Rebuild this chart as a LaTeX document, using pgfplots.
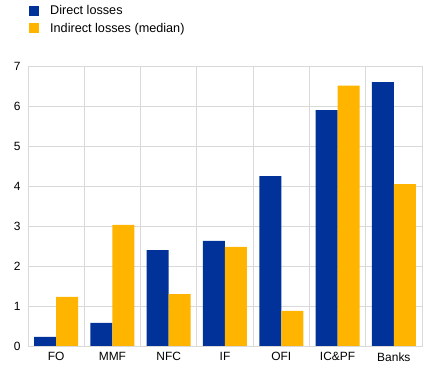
\documentclass[border=0pt]{standalone}
\usepackage{pgfplots}
\pgfplotsset{compat=1.18}
\usepackage{fontspec}
\setmainfont{Liberation Sans}
\definecolor{ecbblue}{HTML}{003299}
\definecolor{ecbyellow}{HTML}{FFB400}
\definecolor{gridgray}{HTML}{D9D9D9}
\begin{document}
\begin{tikzpicture}
\path[use as bounding box] (-28bp,-28bp) rectangle (409bp,346bp);
\begin{axis}[
  at={(0,0)}, anchor=south west,
  scale only axis, width=394bp, height=280bp,
  ybar=0pt, bar width=22bp,
  xmin=-0.5, xmax=6.5, ymin=0, ymax=7,
  xtick={0,...,6},
  xticklabels={FO,MMF,NFC,IF,OFI,IC\&PF,Banks},
  minor xtick={0.5,1.5,...,5.5},
  ytick={0,...,7},
  ymajorgrids, xminorgrids,
  major tick length=0pt, minor tick length=0pt,
  grid style={gridgray, line width=0.8pt},
  axis line style={gridgray, line width=0.8pt},
  tick label style={font=\fontsize{12}{14}\selectfont, black},
  /pgf/number format/assume math mode=true,
  xticklabel style={yshift=-3bp},
  yticklabel style={xshift=-4bp},
  legend style={at={(0,1)}, anchor=north west, xshift=1bp, yshift=63bp,
    draw=none, fill=none, inner sep=0pt, row sep=3bp, column sep=9bp,
    font=\fontsize{12.7}{14}\selectfont, cells={anchor=west}},
  legend image code/.code={\fill[#1] (0bp,-5bp) rectangle (10bp,5bp);},
]
\addplot[fill=ecbblue, draw=none] coordinates {(0,0.23) (1,0.58) (2,2.4) (3,2.63) (4,4.25) (5,5.9) (6,6.6)};
\addplot[fill=ecbyellow, draw=none] coordinates {(0,1.23) (1,3.03) (2,1.3) (3,2.48) (4,0.88) (5,6.51) (6,4.05)};
\legend{Direct losses, Indirect losses (median)}
\end{axis}
\end{tikzpicture}
\end{document}
